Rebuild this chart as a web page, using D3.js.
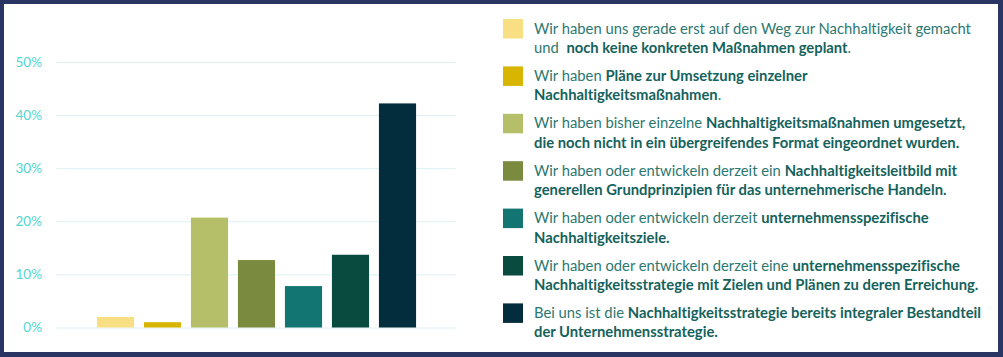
<!DOCTYPE html>
<html>
<head>
<meta charset="utf-8">
<script src="https://cdn.jsdelivr.net/npm/d3@7"></script>
<style>
  html, body { margin: 0; padding: 0; background: #ffffff; }
  svg { display: block; }
  text { font-variant-ligatures: none; font-feature-settings: "liga" 0; }
</style>
</head>
<body>
<svg id="chart" width="1003" height="357"></svg>
<script>
// ---- data ----
const categories = ["c1", "c2", "c3", "c4", "c5", "c6", "c7"];
const values = [0.020, 0.010, 0.207, 0.127, 0.078, 0.137, 0.422];
const colors = ["#f8df83", "#d8b500", "#b5bf69", "#7a8a3f", "#137571", "#0a4b40", "#032c3c"];
const yTicks = [0, 0.1, 0.2, 0.3, 0.4, 0.5];
const legendLines = [
  ["Wir haben uns gerade erst auf den Weg zur Nachhaltigkeit gemacht", "und  **noch keine konkreten Maßnahmen geplant**."],
  ["Wir haben **Pläne zur Umsetzung einzelner**", "**Nachhaltigkeitsmaßnahmen**."],
  ["Wir haben bisher einzelne **Nachhaltigkeitsmaßnahmen umgesetzt,**", "**die noch nicht in ein übergreifendes Format eingeordnet wurden.**"],
  ["Wir haben oder entwickeln derzeit ein **Nachhaltigkeitsleitbild mit**", "**generellen Grundprinzipien für das unternehmerische Handeln.**"],
  ["Wir haben oder entwickeln derzeit **unternehmensspezifische**", "**Nachhaltigkeitsziele.**"],
  ["Wir haben oder entwickeln derzeit eine **unternehmensspezifische**", "**Nachhaltigkeitsstrategie mit Zielen und Plänen zu deren Erreichung.**"],
  ["Bei uns ist die **Nachhaltigkeitsstrategie bereits integraler Bestandteil**", "**der Unternehmensstrategie.**"]
];

// ---- layout ----
const W = 1003, H = 357;
const svg = d3.select("#chart");
const font = "Lato, 'Open Sans', sans-serif";

// frame
svg.append("rect").attr("x", 0).attr("y", 0).attr("width", W).attr("height", H).attr("fill", "#2b3563");
svg.append("rect").attr("x", 4).attr("y", 4).attr("width", W - 9).attr("height", H - 9).attr("fill", "#ffffff");

const y = d3.scaleLinear().domain([0, 0.5]).range([327.5, 62]);
const x = d3.scaleBand().domain(categories).range([92, 421]).paddingInner(0.21).paddingOuter(0.105);
const gridX0 = 56, gridX1 = 456;

// gridlines + labels via axis
const axis = d3.axisLeft(y).tickValues(yTicks).tickFormat(d3.format(".0%")).tickSize(-(gridX1 - gridX0)).tickPadding(14);
const gAxis = svg.append("g").attr("transform", `translate(${gridX0},0)`).call(axis);
gAxis.select(".domain").remove();
gAxis.selectAll(".tick line").attr("stroke", "#dcf0f2").attr("stroke-width", 1);
gAxis.selectAll(".tick text").attr("fill", "#52d6cf").attr("font-family", font).attr("font-size", 13.5);

// bars
svg.append("g").selectAll("rect").data(values).join("rect")
  .attr("x", (d, i) => x(categories[i]))
  .attr("width", x.bandwidth())
  .attr("y", d => y(d))
  .attr("height", d => y(0) - y(d))
  .attr("fill", (d, i) => colors[i]);

// legend
const legX = 503, legY0 = 19, legStep = 47.4, sw = 20;
const lg = svg.append("g");
legendLines.forEach((lines, i) => {
  const top = legY0 + i * legStep;
  lg.append("rect").attr("x", legX).attr("y", top).attr("width", sw).attr("height", 19.5).attr("fill", colors[i]);
  lines.forEach((line, j) => {
    const t = lg.append("text").attr("x", 534).attr("y", top + 14.5 + j * 19.5)
      .attr("font-family", font).attr("font-size", 14.8).attr("xml:space", "preserve");
    const parts = line.split("**");
    parts.forEach((p, k) => {
      if (!p) return;
      t.append("tspan").text(p)
        .attr("font-weight", k % 2 ? 700 : 400)
        .attr("fill", k % 2 ? "#15625c" : "#2c7871");
    });
  });
});
</script>
</body>
</html>
